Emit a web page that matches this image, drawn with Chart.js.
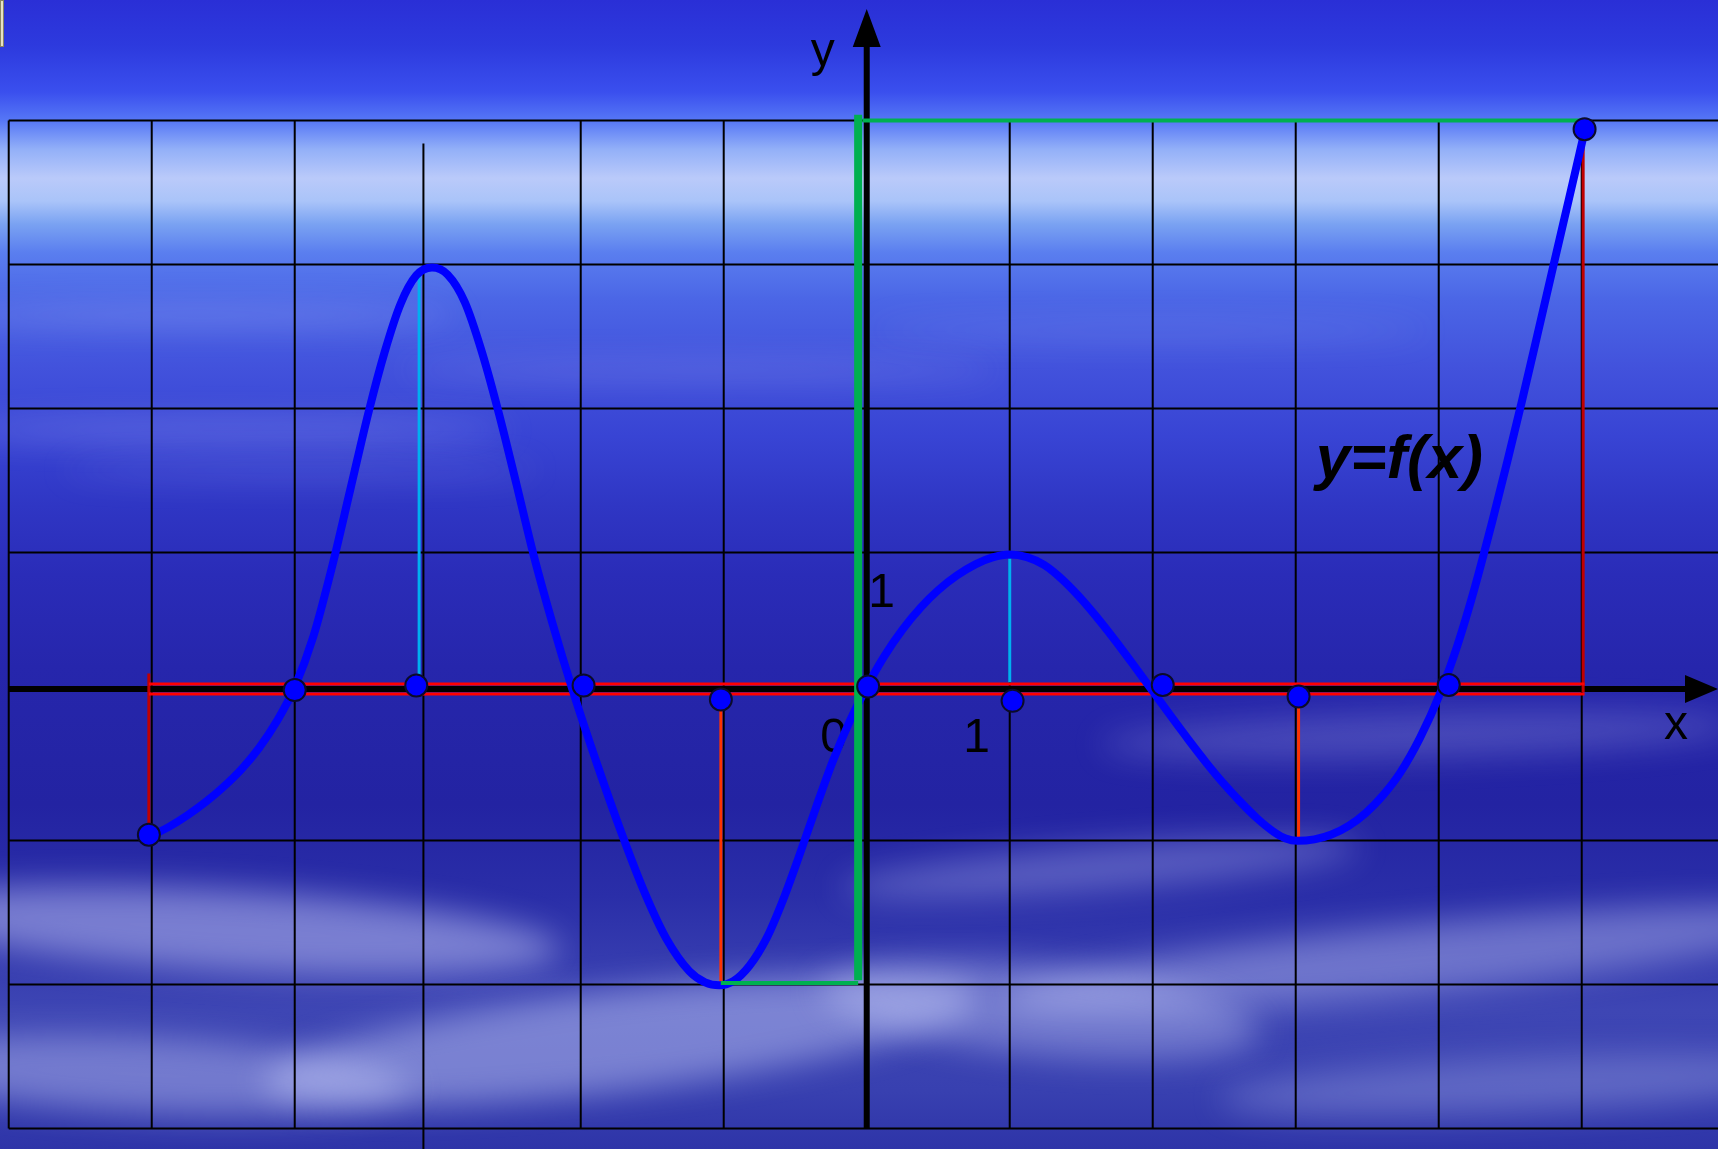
<!DOCTYPE html>
<html>
<head>
<meta charset="utf-8">
<title>y=f(x)</title>
<script src="https://cdn.jsdelivr.net/npm/chart.js@4.4.1/dist/chart.umd.min.js"></script>
<style>
  html, body { margin: 0; padding: 0; background: #2a2fd6; overflow: hidden; }
  canvas { display: block; }
</style>
</head>
<body>
<canvas id="graph" width="1718" height="1149"></canvas>
<script>
// graph of y=f(x)
var curveX = [-5.01, -4.88, -4.75, -4.62, -4.5, -4.37, -4.25, -4.12, -4.0, -3.87, -3.74, -3.61, -3.48, -3.37, -3.26, -3.15, -3.04,
              -2.93, -2.81, -2.69, -2.57, -2.45, -2.33, -2.2, -2.06, -1.88, -1.71, -1.55, -1.40, -1.24, -1.13, -1.03,
              -0.93, -0.82, -0.70, -0.59, -0.48, -0.36, -0.24, -0.12, 0,
              0.12, 0.25, 0.38, 0.5, 0.63, 0.76, 0.88, 1.0,
              1.12, 1.24, 1.36, 1.48, 1.6, 1.72, 1.86, 2.0,
              2.13, 2.25, 2.37, 2.49, 2.61, 2.73, 2.85, 2.93, 3.01,
              3.13, 3.25, 3.37, 3.49, 3.61, 3.73, 3.87, 4.01,
              4.13, 4.25, 4.37, 4.48, 4.58, 4.69, 4.8, 4.91, 5.02];
var curveY = [-0.97, -0.905, -0.824, -0.73, -0.629, -0.502, -0.358, -0.163, 0.065, 0.416, 0.897, 1.443, 1.989, 2.396, 2.726, 2.924, 2.979,
              2.929, 2.737, 2.389, 1.957, 1.477, 0.985, 0.517, 0.055, -0.485, -0.961, -1.369, -1.684, -1.908, -1.985, -2.005,
              -1.975, -1.87, -1.678, -1.425, -1.128, -0.786, -0.456, -0.174, 0.066,
              0.276, 0.465, 0.621, 0.739, 0.84, 0.918, 0.966, 0.986,
              0.968, 0.914, 0.82, 0.70, 0.562, 0.412, 0.227, 0.037,
              -0.14, -0.30, -0.454, -0.598, -0.728, -0.846, -0.942, -0.986, -1.002,
              -0.992, -0.958, -0.898, -0.808, -0.686, -0.53, -0.285, 0.023,
              0.353, 0.749, 1.199, 1.634, 2.044, 2.511, 2.984, 3.452, 3.925];

// marked points (ends, zeros and projections of the extrema)
var markX = [-5.02, -4.0, -3.15, -1.98, -1.02, 0.01, 1.02, 2.07, 3.02, 4.07, 5.02];
var markY = [-0.96, 0.045, 0.077, 0.077, -0.02, 0.07, -0.03, 0.08, 0.0, 0.08, 3.94];

// grid
var gridX = [-6, -5, -4, -2, -1, 0, 1, 2, 3, 4, 5];
var gridY = [-3, -2, -1, 1, 2, 3, 4];
var extraGridX = -3.1, extraGridTop = 3.84;

// view and axes
var xMin = -6.061, xMax = 5.953, yMin = -3.142, yMax = 4.837;
var axisY = 0.052;
var xTicks = [1], yTicks = [1];

// helper segments [x1, y1, x2, y2]
var redDark = [[-5.02, 0.16, -5.02, -0.96], [5.01, 3.93, 5.01, 0.03]];
var redBright = [[-5.02, 0.087, 5.02, 0.087], [-5.02, 0.017, 5.02, 0.017]];
var orange = [[-1.02, -0.05, -1.02, -1.99], [3.02, -0.05, 3.02, -1.0]];
var cyan = [[-3.13, 2.97, -3.13, 0.1], [1.0, 0.96, 1.0, 0.1]];
var greenThin = [[-0.03, 4.0, 5.01, 4.0], [-1.02, -1.99, -0.06, -1.99]];
var greenThick = [[-0.06, 4.04, -0.06, -1.97]];

function segs(list) {
    var pts = [];
    list.forEach(function (s) {
        pts.push({ x: s[0], y: s[1] }, { x: s[2], y: s[3] }, { x: s[2], y: null });
    });
    return pts;
}

function gridTopY() { return gridY[gridY.length - 1]; }
function gridBottomY() { return gridY[0]; }
function gridSegs() {
    var list = [];
    gridX.forEach(function (v) { list.push([v, gridBottomY(), v, gridTopY()]); });
    list.push([extraGridX, extraGridTop, extraGridX, yMin]);
    gridY.forEach(function (v) { list.push([gridX[0], v, xMax, v]); });
    return segs(list);
}

function lineSet(data, color, width, order) {
    return {
        data: data, showLine: true, borderColor: color, borderWidth: width,
        pointRadius: 0, pointHoverRadius: 0, spanGaps: false, order: order,
        borderCapStyle: 'butt'
    };
}

var sky = {
    id: 'sky',
    beforeDraw: function (chart) {
        var ctx = chart.ctx, w = chart.width, h = chart.height;
        var g = ctx.createLinearGradient(0, 0, 0, h);
        var stops = [[0, '#2a2fd6'], [0.04, '#2d3ade'], [0.08, '#3a4fee'], [0.105, '#5677f6'],
            [0.13, '#93b0f8'], [0.155, '#bacafa'], [0.175, '#aac4f9'], [0.195, '#7aa2f2'],
            [0.22, '#5a7eef'], [0.26, '#4b66e6'], [0.32, '#4252dc'], [0.38, '#3844d4'],
            [0.44, '#2f36c4'], [0.5, '#2a2cb8'], [0.58, '#2626ac'], [0.7, '#2323a2'],
            [0.78, '#2a2ea8'], [0.88, '#3e46b4'], [0.95, '#3840b0'], [1, '#2e34a8']];
        stops.forEach(function (s) { g.addColorStop(s[0], s[1]); });
        ctx.save();
        ctx.fillStyle = g;
        ctx.fillRect(0, 0, w, h);
        // cloud streaks
        var clouds = [
            [230, 930, 330, 40, 0.06, 0.45], [620, 1040, 360, 50, -0.12, 0.42], [150, 1075, 260, 38, 0.05, 0.38],
            [1100, 868, 260, 22, -0.08, 0.3], [1420, 958, 420, 34, -0.1, 0.36], [1040, 1010, 220, 45, 0.1, 0.34],
            [1520, 1085, 300, 28, -0.05, 0.26], [1420, 735, 320, 22, -0.03, 0.22], [200, 315, 260, 7, 0, 0.35],
            [230, 430, 280, 8, 0, 0.35], [700, 370, 300, 7, 0, 0.25], [1150, 330, 280, 6, 0, 0.2],
            [300, 470, 240, 6, 0, 0.22]
        ];
        ctx.filter = 'blur(16px)';
        clouds.forEach(function (c) {
            ctx.fillStyle = 'rgba(210,216,255,' + c[5] + ')';
            ctx.beginPath();
            ctx.ellipse(c[0], c[1], c[2], c[3], c[4], 0, Math.PI * 2);
            ctx.fill();
        });
        ctx.filter = 'none';
        // little tab in the corner
        ctx.fillStyle = '#e6e2c4';
        ctx.fillRect(0, 0, 4, 47);
        ctx.strokeStyle = '#8a8660';
        ctx.lineWidth = 1;
        ctx.strokeRect(0.5, 0.5, 3, 46);
        ctx.restore();
    }
};

var axes = {
    id: 'axes',
    beforeDatasetsDraw: function (chart) {
        var ctx = chart.ctx, xs = chart.scales.x, ys = chart.scales.y;
        var ox = xs.getPixelForValue(0), oy = ys.getPixelForValue(axisY);
        var left = xs.getPixelForValue(gridX[0]), bottom = ys.getPixelForValue(gridBottomY());
        var right = xs.right, top = ys.top + 9;
        ctx.save();
        ctx.strokeStyle = '#000';
        ctx.fillStyle = '#000';
        ctx.lineWidth = 6;
        ctx.beginPath();
        ctx.moveTo(left, oy); ctx.lineTo(right - 30, oy);
        ctx.moveTo(ox, bottom); ctx.lineTo(ox, top + 36);
        ctx.stroke();
        ctx.beginPath();
        ctx.moveTo(right, oy); ctx.lineTo(right - 33, oy - 14); ctx.lineTo(right - 33, oy + 14); ctx.closePath();
        ctx.moveTo(ox, top); ctx.lineTo(ox - 14, top + 38); ctx.lineTo(ox + 14, top + 38); ctx.closePath();
        ctx.fill();

        ctx.textAlign = 'center';
        ctx.textBaseline = 'alphabetic';
        ctx.font = '48px "Liberation Sans", Arial, sans-serif';
        ctx.fillText('y', ox - 44, 66);
        ctx.fillText('x', right - 42, oy + 50);
        ctx.fillText('0', ox - 33, oy + 63);
        xTicks.forEach(function (v) { ctx.fillText(String(v), xs.getPixelForValue(v) - 33, oy + 63); });
        yTicks.forEach(function (v) { ctx.fillText(String(v), ox + 15, ys.getPixelForValue(v) + 54); });
        ctx.textAlign = 'left';
        ctx.font = 'italic bold 62px "Liberation Sans", Arial, sans-serif';
        ctx.fillText('y=f(x)', xs.getPixelForValue(3.14), ys.getPixelForValue(1.52));
        ctx.restore();
    }
};

var curve = curveX.map(function (x, i) { return { x: x, y: curveY[i] }; });
var marks = markX.map(function (x, i) { return { x: x, y: markY[i] }; });

var curveSet = lineSet(curve, '#0000ff', 8, 3);
curveSet.cubicInterpolationMode = 'monotone';
curveSet.borderCapStyle = 'round';
curveSet.borderJoinStyle = 'round';

new Chart(document.getElementById('graph'), {
    type: 'scatter',
    data: {
        datasets: [
            {
                data: marks, pointRadius: 11, pointHoverRadius: 11, backgroundColor: '#0000ff',
                borderColor: '#0b0b2a', borderWidth: 2, order: 0
            },
            lineSet(segs(greenThick), '#00b050', 8, 1),
            lineSet(segs(greenThin), '#00b050', 4, 2),
            curveSet,
            lineSet(segs(cyan), '#00b0f0', 3, 4),
            lineSet(segs(orange), '#ff3300', 3, 5),
            lineSet(segs(redBright), '#ff0000', 3, 6),
            lineSet(segs(redDark), '#c00000', 3, 7),
            lineSet(gridSegs(), '#000000', 2, 8)
        ]
    },
    options: {
        responsive: false,
        animation: false,
        devicePixelRatio: 1,
        events: [],
        layout: { padding: 0, autoPadding: false },
        plugins: { legend: { display: false }, tooltip: { enabled: false } },
        scales: {
            x: { type: 'linear', min: xMin, max: xMax, display: false },
            y: { type: 'linear', min: yMin, max: yMax, display: false }
        }
    },
    plugins: [sky, axes]
});
</script>
</body>
</html>
